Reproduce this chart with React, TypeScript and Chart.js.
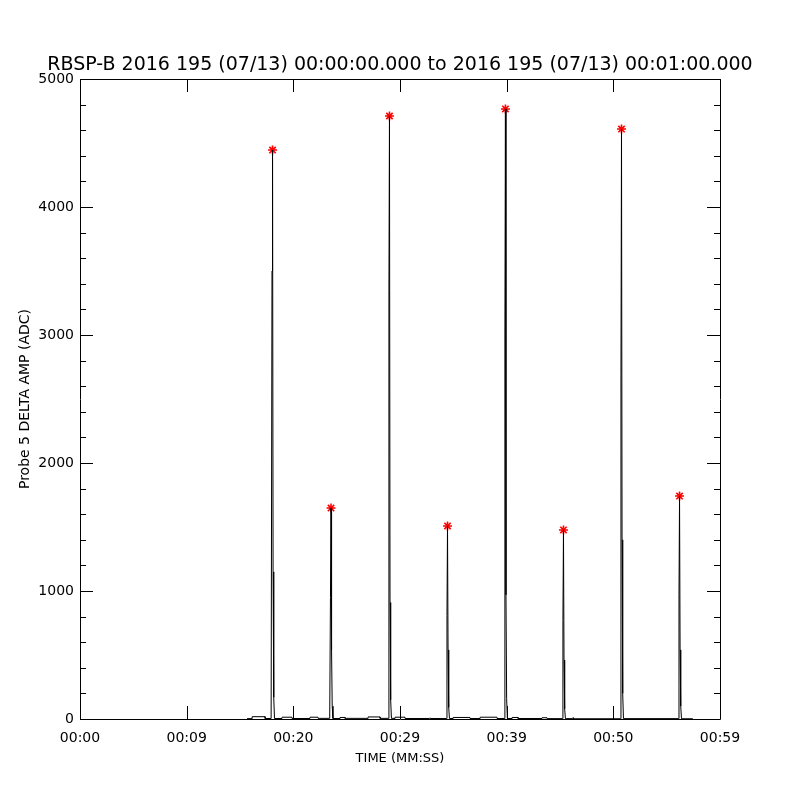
import React, { useEffect, useRef } from "react";
import { Chart, registerables } from "chart.js";

Chart.register(...registerables);

const titleText = "RBSP-B 2016 195 (07/13) 00:00:00.000 to 2016 195 (07/13) 00:01:00.000";
const xTitle = "TIME (MM:SS)";
const yTitle = "Probe 5 DELTA AMP (ADC)";

const xTickValues = [0, 9.833, 19.667, 29.5, 39.333, 49.167, 59];
const xTickLabels = ["00:00", "00:09", "00:20", "00:29", "00:39", "00:50", "00:59"];
const yMajorStep = 1000;
const yMinorStep = 200;

// time (s) of each sample
const times = [
  15.40, 15.86, 15.87, 17.06, 17.07,
  17.62, 17.70, 17.75, 17.80, 17.86, 17.93,
  18.62, 18.63, 19.54, 19.55, 21.20, 21.21, 21.94, 21.95,
  23.02, 23.09, 23.14, 23.19, 23.25, 23.32,
  23.97, 23.98, 24.43, 24.44, 26.55, 26.56, 27.66, 27.67,
  28.41, 28.48, 28.53, 28.58, 28.64, 28.71,
  29.04, 29.05, 29.96, 29.97, 32.20, 32.27, 32.34,
  33.76, 33.83, 33.88, 33.93, 33.99, 34.06,
  34.39, 34.40, 35.95, 35.96, 36.88, 36.89, 38.44, 38.45,
  39.10, 39.17, 39.22, 39.27, 39.33, 39.40,
  39.83, 39.84, 40.38, 40.39, 42.59, 42.60, 43.05, 43.06,
  44.45, 44.52, 44.57, 44.62, 44.68, 44.75,
  45.40, 45.45, 45.50,
  49.80, 49.87, 49.92, 49.97, 50.03, 50.10,
  55.15, 55.22, 55.27, 55.32, 55.38, 55.45, 56.50,
];

// amplitude (ADC) of each sample
const amps = [
  3, 3, 18, 18, 4,
  4, 3500, 4445, 1150, 170, 4,
  4, 14, 14, 4, 4, 14, 14, 5,
  5, 950, 1648, 540, 100, 4,
  4, 12, 12, 5, 5, 16, 16, 5,
  5, 3350, 4711, 910, 150, 5,
  5, 14, 14, 4, 4, 8, 4,
  4, 810, 1508, 540, 90, 4,
  4, 12, 12, 4, 4, 14, 14, 4,
  4, 3000, 4766, 970, 160, 4,
  4, 12, 12, 4, 4, 10, 10, 3,
  3, 770, 1477, 460, 80, 3,
  3, 10, 2,
  2, 2690, 4609, 1400, 200, 3,
  3, 970, 1742, 540, 100, 2, 2,
];

const peakTimes = [17.75, 23.14, 28.53, 33.88, 39.22, 44.57, 49.92, 55.27];
const peakAmps = [4445, 1648, 4711, 1508, 4766, 1477, 4609, 1742];

const idlFrame = {
  id: "idlFrame",
  afterDraw(chart: any) {
    const { ctx, chartArea } = chart;
    const { left, right, top, bottom } = chartArea;
    const xs = chart.scales.x;
    const ys = chart.scales.y;
    ctx.save();
    ctx.strokeStyle = "#000";
    ctx.lineWidth = 1;
    ctx.beginPath();
    ctx.rect(Math.round(left) + 0.5, Math.round(top) + 0.5, Math.round(right - left), Math.round(bottom - top));
    xTickValues.forEach((v) => {
      const px = Math.round(xs.getPixelForValue(v)) + 0.5;
      ctx.moveTo(px, bottom);
      ctx.lineTo(px, bottom - 13);
      ctx.moveTo(px, top);
      ctx.lineTo(px, top + 13);
    });
    for (let v = 0; v <= ys.max + 0.001; v += yMinorStep) {
      const len = v % yMajorStep === 0 ? 13 : 6;
      const py = Math.round(ys.getPixelForValue(v)) + 0.5;
      ctx.moveTo(left, py);
      ctx.lineTo(left + len, py);
      ctx.moveTo(right, py);
      ctx.lineTo(right - len, py);
    }
    ctx.stroke();
    ctx.restore();
  },
};

export default function App() {
  const ref = useRef<HTMLCanvasElement>(null);
  useEffect(() => {
    if (!ref.current) return;
    Chart.defaults.font.family = "'DejaVu Sans', sans-serif";
    Chart.defaults.color = "#000";
    const chart = new Chart(ref.current, {
      type: "line",
      data: {
        datasets: [
          {
            data: times.map((t, i) => ({ x: t, y: amps[i] })),
            borderColor: "#000",
            borderWidth: 1,
            pointRadius: 0,
            tension: 0,
            fill: false,
          },
          {
            data: peakTimes.map((t, i) => ({ x: t, y: peakAmps[i] })),
            showLine: false,
            pointStyle: "star",
            pointRadius: 4.5,
            borderColor: "#ff0000",
            backgroundColor: "#ff0000",
            borderWidth: 1.6,
          },
        ],
      },
      options: {
        animation: false,
        responsive: false,
        devicePixelRatio: 1,
        layout: { padding: 0 },
        plugins: {
          legend: { display: false },
          tooltip: { enabled: false },
          title: {
            display: true,
            text: titleText,
            font: { size: 19, weight: "normal" },
            color: "#000",
            padding: { top: 54, bottom: 2.2 },
          },
        },
        scales: {
          x: {
            type: "linear",
            min: 0,
            max: 59,
            grid: { display: false, drawTicks: false },
            border: { display: false },
            afterBuildTicks: (scale: any) => {
              scale.ticks = xTickValues.map((v) => ({ value: v }));
            },
            afterFit: (scale: any) => {
              scale.height = 81;
            },
            ticks: {
              autoSkip: false,
              maxRotation: 0,
              padding: 11,
              font: { size: 14 },
              color: "#000",
              callback: (_v: any, i: number) => xTickLabels[i],
            },
            title: {
              display: true,
              text: xTitle,
              font: { size: 13 },
              color: "#000",
              padding: { top: 0, bottom: 34 },
            },
          },
          y: {
            type: "linear",
            min: 0,
            max: 5000,
            grid: { display: false, drawTicks: false },
            border: { display: false },
            afterFit: (scale: any) => {
              scale.width = 80;
            },
            ticks: {
              stepSize: yMajorStep,
              padding: 6,
              font: { size: 14 },
              color: "#000",
              callback: (v: any) => String(v),
            },
            title: {
              display: true,
              text: yTitle,
              font: { size: 14 },
              color: "#000",
              padding: { top: 17, bottom: 0 },
            },
          },
          yRight: {
            type: "linear",
            position: "right",
            min: 0,
            max: 5000,
            grid: { display: false, drawTicks: false },
            border: { display: false },
            ticks: { display: false },
            afterFit: (scale: any) => {
              scale.width = 80;
            },
          },
        },
      },
      plugins: [idlFrame],
    } as any);
    return () => chart.destroy();
  }, []);
  return (
    <div style={{ position: "fixed", left: 0, top: 0, width: 800, height: 800, background: "#fff" }}>
      <canvas ref={ref} width={800} height={800} style={{ display: "block" }} />
    </div>
  );
}
